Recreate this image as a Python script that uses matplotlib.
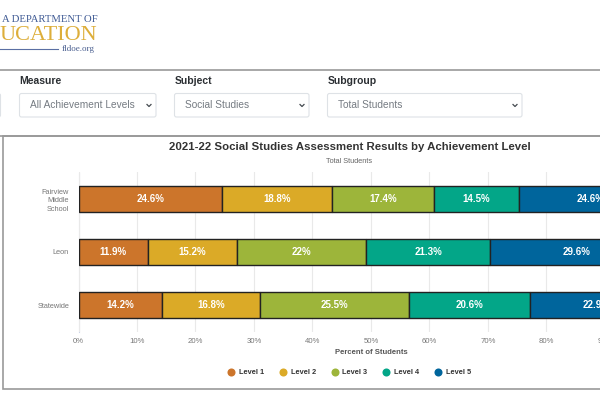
"""Achievement level chart from the FLDOE dashboard, with page header around it."""

import matplotlib
matplotlib.use("Agg")  # headless backend
import matplotlib.pyplot as plt
from matplotlib.patches import FancyBboxPatch, Rectangle
import numpy as np

plt.rcParams["font.family"] = ["Liberation Sans", "DejaVu Sans"]

schools = ["Fairview\nMiddle\nSchool", "Leon", "Statewide"]
levels = ["Level 1", "Level 2", "Level 3", "Level 4", "Level 5"]
level_1 = [24.6, 11.9, 14.2]
level_2 = [18.8, 15.2, 16.8]
level_3 = [17.4, 22.0, 25.5]
level_4 = [14.5, 21.3, 20.6]
level_5 = [24.6, 29.6, 22.9]
colors = ["#CC752B", "#DBAA27", "#9DB53A", "#03A688", "#00659C"]
x_ticks = [0, 10, 20, 30, 40, 50, 60, 70, 80, 90, 100]

filters = [
    ("Measure", "All Achievement Levels", 19.5, 156),
    ("Subject", "Social Studies", 174.5, 309),
    ("Subgroup", "Total Students", 327.5, 522),
]

W, H = 600, 400
fig = plt.figure(figsize=(W / 100, H / 100), dpi=100)

# page layer in pixel coords
page = fig.add_axes([0, 0, 1, 1])
page.set_xlim(0, W)
page.set_ylim(H, 0)
page.axis("off")

# logo
page.text(98, 19.5, "A DEPARTMENT OF", family="Liberation Serif", fontsize=7.7,
          color="#3F5A94", ha="right", va="center")
page.text(97, 35.5, "UCATION", family="Liberation Serif", fontsize=16,
          color="#DDAE3A", ha="right", va="center")
page.plot([0, 58], [49, 49], color="#5A6FA3", lw=0.8)
page.text(95, 49, "fldoe.org", family="Liberation Serif", fontsize=6.5,
          color="#4A5F90", ha="right", va="center")

# filter panel
page.plot([0, W], [70, 70], color="#999999", lw=1.2)
page.plot([0, W], [136, 136], color="#999999", lw=1.2)
page.add_patch(FancyBboxPatch((-20, 93.5), 20.5, 23.5, boxstyle="round,pad=0,rounding_size=2",
                              fc="white", ec="#DEE2E6", lw=0.8))
for label, value, x0, x1 in filters:
    page.text(x0, 80.5, label, fontsize=7.5, fontweight="bold", color="#2B2F33",
              ha="left", va="center")
    page.add_patch(FancyBboxPatch((x0, 93.5), x1 - x0, 23.5, boxstyle="round,pad=0,rounding_size=2",
                                  fc="white", ec="#DEE2E6", lw=0.8))
    page.text(x0 + 10.5, 105.3, value, fontsize=7.3, color="#757B82", ha="left", va="center")
    page.plot([x1 - 9, x1 - 7, x1 - 5], [104.5, 106.5, 104.5], color="#444A50", lw=0.9)

# chart frame
page.add_patch(Rectangle((3, 136), 700, 253, fc="white", ec="#999999", lw=1.2))
page.text(349.5, 147.5, "2021-22 Social Studies Assessment Results by Achievement Level",
          fontsize=8.2, fontweight="bold", color="#333333", ha="center", va="center")
page.text(349.5, 161.5, "Total Students", fontsize=5.3, color="#666666", ha="center", va="center")

# bars
ax = fig.add_axes([78.5 / W, 1 - 331.5 / H, 585 / W, 159 / H])
ax.patch.set_alpha(0)
series = [level_1, level_2, level_3, level_4, level_5]
y = np.arange(len(schools))
left = np.zeros(len(schools))
for name, vals, color in zip(levels, series, colors):
    bars = ax.barh(y, vals, left=left, height=0.5, color=color, edgecolor="#222222",
                   linewidth=1, label=name, zorder=3)
    for bar, val in zip(bars, vals):
        ax.text(bar.get_x() + bar.get_width() / 2, bar.get_y() + bar.get_height() / 2,
                f"{val:g}%", color="white", fontsize=7, fontweight="bold",
                ha="center", va="center", zorder=4)
    left += np.array(vals)

ax.set_xlim(0, 100)
ax.set_ylim(2.5, -0.5)
ax.set_xticks(x_ticks)
ax.set_xticklabels([f"{t}%" for t in x_ticks])
ax.set_yticks(y)
ax.set_yticklabels(schools, multialignment="right", linespacing=1.3)
ax.tick_params(axis="x", length=0, pad=5, labelsize=5.6, labelcolor="#777777")
ax.tick_params(axis="y", length=0, pad=6.8, labelsize=5.3, labelcolor="#777777")
ax.grid(axis="x", color="#E9E9E9", lw=0.8, zorder=0)
for side in ["top", "right", "bottom"]:
    ax.spines[side].set_visible(False)
ax.spines["left"].set_color("#CCD6EB")
ax.spines["left"].set_linewidth(0.8)
ax.spines["left"].set_zorder(1)
ax.set_xlabel("Percent of Students", fontsize=5.5, fontweight="bold", color="#555555",
              labelpad=0)
ax.xaxis.set_label_coords((371 - 78.5) / 585, -(352.7 - 331.5) / 159, transform=ax.transAxes)
ax.xaxis.label.set_va("center")

# legend, built by hand so it sits where the reference has it
legend_x = [231, 283, 334.5, 386, 438]
for name, color, lx in zip(levels, colors, legend_x):
    page.plot(lx, 372, "o", ms=5.8, color=color, mew=0)
    page.text(lx + 8, 372.2, name, fontsize=5.3, fontweight="bold", color="#333333",
              ha="left", va="center")

fig.savefig("out.png", dpi=100)
